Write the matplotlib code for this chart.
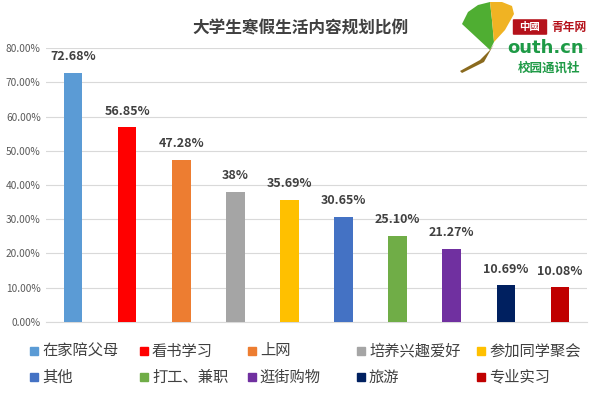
import matplotlib
matplotlib.use("Agg")
import matplotlib.pyplot as plt
from matplotlib.patches import Polygon, FancyBboxPatch, Rectangle
import numpy as np

plt.rcParams['font.family'] = ['Noto Sans CJK SC', 'DejaVu Sans']

categories = ["在家陪父母", "看书学习", "上网", "培养兴趣爱好", "参加同学聚会",
              "其他", "打工、兼职", "逛街购物", "旅游", "专业实习"]
values = [72.68, 56.85, 47.28, 38.0, 35.69, 30.65, 25.10, 21.27, 10.69, 10.08]
labels = ["72.68%", "56.85%", "47.28%", "38%", "35.69%", "30.65%", "25.10%", "21.27%", "10.69%", "10.08%"]
colors = ["#5B9BD5", "#FF0000", "#ED7D31", "#A5A5A5", "#FFC000",
          "#4472C4", "#70AD47", "#7030A0", "#002060", "#C00000"]
yticks = [0, 10, 20, 30, 40, 50, 60, 70, 80]

W, H = 600, 394
def P(px, py):
    return (px / W, 1 - py / H)

fig = plt.figure(figsize=(6, 3.94), dpi=100)
ax = fig.add_axes([0.077, 0.183, 0.901, 0.695])
x = np.arange(len(categories))
ax.bar(x, values, width=0.34, color=colors, zorder=3)
for xi, v, lab in zip(x, values, labels):
    ax.annotate(lab, (xi, v), xytext=(0, 7), textcoords="offset points",
                ha="center", va="bottom", fontsize=9, fontweight="bold", color="#404040")
ax.set_xlim(-0.5, len(categories) - 0.5)
ax.set_ylim(0, 80)
ax.set_yticks(yticks)
ax.set_yticklabels([f"{t:.2f}%" for t in yticks], fontsize=7.3, color="#595959")
ax.set_xticks([])
ax.grid(axis="y", color="#D9D9D9", linewidth=0.8, zorder=0)
for s in ["top", "right", "left"]:
    ax.spines[s].set_visible(False)
ax.spines["bottom"].set_color("#D9D9D9")
ax.tick_params(axis="y", length=0, pad=4)

fig.text(0.5, 0.928, "大学生寒假生活内容规划比例", ha="center", va="center",
         fontsize=12, fontweight="bold", color="#404040")

# legend (manual placement, 2 rows x 5 columns)
col_x = [34, 144, 252, 361, 481]
row_y = [351, 377]
for i, (c, col) in enumerate(zip(categories, colors)):
    r, k = divmod(i, 5)
    px, py = col_x[k], row_y[r]
    fig.patches.append(Rectangle(P(px - 4, py + 4), 8 / W, 8 / H,
                                 transform=fig.transFigure, color=col, figure=fig))
    fig.text(*P(px + 8, py), c, ha="left", va="center", fontsize=11, color="#404040")

# logo approximation (ginkgo leaf + text)
green_leaf = [P(462, 24), P(468, 12), P(478, 5), P(490, 2), P(492, 20), P(494, 42), P(490, 50)]
yellow_leaf = [P(490, 2), P(502, 2), P(512, 6), P(514, 14), P(505, 30), P(494, 42), P(492, 20)]
stem = [P(490, 50), P(494, 44), P(484, 62), P(462, 73), P(460, 71), P(480, 60)]
for pts, fc in [(green_leaf, "#4FAE32"), (yellow_leaf, "#F0B323"), (stem, "#8A6A1E")]:
    fig.patches.append(Polygon(pts, closed=True, transform=fig.transFigure,
                               facecolor=fc, edgecolor="none", figure=fig))
bx0, by0 = P(514, 34)
fig.patches.append(FancyBboxPatch((bx0, by0), 32 / W, 14 / H,
                                  boxstyle="round,pad=0.002", transform=fig.transFigure,
                                  facecolor="#B5121B", edgecolor="none", figure=fig))
fig.text(*P(530, 27), "中國", ha="center", va="center", fontsize=7.5, color="white", fontweight="bold")
fig.text(*P(569, 27), "青年网", ha="center", va="center", fontsize=8.5, color="#B5121B", fontweight="bold")
fig.text(*P(546, 48), "outh.cn", ha="center", va="center", fontsize=13, color="#1E9A46",
         fontweight="bold", family="DejaVu Sans")
fig.text(*P(549, 68), "校园通讯社", ha="center", va="center", fontsize=9, color="#1E9A46",
         fontweight="bold")

fig.savefig("out.png", dpi=100)
